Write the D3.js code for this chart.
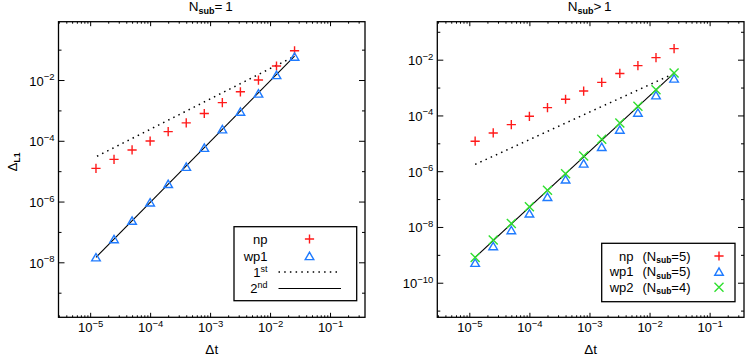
<!DOCTYPE html>
<html>
<head>
<meta charset="utf-8">
<script src="https://cdn.jsdelivr.net/npm/d3@7"></script>
<style>
  body { margin: 0; background: #fff; }
  svg { display: block; }
  text { font-family: "Liberation Sans", Arial, Helvetica, sans-serif; fill: #000; }
</style>
</head>
<body>
<svg id="chart" width="747" height="357"></svg>
<script>
// time steps (same for every series)
const dt = [1.25e-5, 2.5e-5, 5e-5, 1e-4, 2e-4, 4e-4, 8e-4, 1.6e-3, 3.2e-3, 6.4e-3, 1.28e-2, 2.56e-2];

// left panel, Nsub = 1
const npLeft  = [1.24e-5, 2.45e-5, 5.0e-5, 9.8e-5, 2.0e-4, 3.9e-4, 7.9e-4, 1.8e-3, 4.1e-3, 1.0e-2, 2.9e-2, 9.2e-2];
const wp1Left = [1.46e-8, 5.8e-8, 2.34e-7, 9.4e-7, 3.8e-6, 1.4e-5, 5.9e-5, 2.4e-4, 9.1e-4, 3.6e-3, 1.46e-2, 5.9e-2];
const firstOrderLeft  = [[1.3e-5, 3.1e-5], [2.4e-2, 5.7e-2]];
const secondOrderLeft = [[1.25e-5, 1.46e-8], [2.56e-2, 6.1e-2]];

// right panel, Nsub > 1
const npRight  = [1.19e-5, 2.35e-5, 4.7e-5, 9.3e-5, 1.9e-4, 3.8e-4, 7.5e-4, 1.54e-3, 3.2e-3, 6.1e-3, 1.18e-2, 2.5e-2];
const wp1Right = [5.2e-10, 2.06e-9, 7.7e-9, 3.05e-8, 1.2e-7, 5.05e-7, 1.89e-6, 7.4e-6, 3.1e-5, 1.26e-4, 5.3e-4, 2.1e-3];
const wp2Right = [8.1e-10, 3.4e-9, 1.34e-8, 5.3e-8, 2.09e-7, 8.1e-7, 3.5e-6, 1.4e-5, 5.4e-5, 2.13e-4, 8.4e-4, 3.3e-3];
const firstOrderRight  = [[1.25e-5, 1.75e-6], [2.4e-2, 3.0e-3]];
const secondOrderRight = [[1.25e-5, 8.1e-10], [2.56e-2, 3.3e-3]];

// tick exponents
const xTickExp = [-5, -4, -3, -2, -1];
const yLabelExpLeft = [-2, -4, -6, -8];
const yOddExpLeft = [-1, -3, -5, -7, -9];
const yLabelExpRight = [-2, -4, -6, -8, -10];
const yOddExpRight = [-1, -3, -5, -7, -9, -11];

const RED = "#ff1a1a", BLUE = "#1f7bff", GREEN = "#2fe02f";

const svg = d3.select("#chart");

function plus(g, cx, cy, color) {
  g.append("path")
    .attr("d", `M${cx - 4.6},${cy}H${cx + 4.6}M${cx},${cy - 4.6}V${cy + 4.6}`)
    .attr("stroke", color).attr("stroke-width", 1.4).attr("fill", "none");
}
function triangle(g, cx, cy, color) {
  g.append("path")
    .attr("d", `M${cx - 4.3},${cy + 3.6}L${cx},${cy - 3.8}L${cx + 4.3},${cy + 3.6}Z`)
    .attr("stroke", color).attr("stroke-width", 1.4).attr("fill", "none");
}
function cross(g, cx, cy, color) {
  g.append("path")
    .attr("d", `M${cx - 4.5},${cy - 4.5}L${cx + 4.5},${cy + 4.5}M${cx - 4.5},${cy + 4.5}L${cx + 4.5},${cy - 4.5}`)
    .attr("stroke", color).attr("stroke-width", 1.4).attr("fill", "none");
}

// "10" with a superscript exponent
function sci(text, exp) {
  text.append("tspan").attr("font-size", 13).text("10");
  text.append("tspan").attr("font-size", 9.5).attr("dy", -5.5).text("\u2212" + Math.abs(exp));
}

function minorTicks(domain) {
  const vals = [];
  for (let e = Math.floor(Math.log10(domain[0])); e <= Math.ceil(Math.log10(domain[1])); e++) {
    for (let k = 2; k <= 9; k++) {
      const v = k * Math.pow(10, e);
      if (v > domain[0] && v < domain[1]) vals.push(v);
    }
  }
  return vals;
}

function drawPanel(p) {
  const x = d3.scaleLog().domain(p.xDomain).range([p.left, p.right]);
  const y = d3.scaleLog().domain(p.yDomain).range([p.bottom, p.top]);
  const g = svg.append("g");

  const xMajor = xTickExp.map(e => Math.pow(10, e));
  const xMinor = minorTicks(p.xDomain);
  const yMajor = p.yLabelExp.map(e => Math.pow(10, e));
  const yOdd = p.yOddExp.map(e => Math.pow(10, e));

  const axes = [
    [d3.axisBottom(x).tickValues(xMinor).tickSize(-2), `translate(0,${p.bottom})`],
    [d3.axisBottom(x).tickValues(xMajor).tickSize(-4.5), `translate(0,${p.bottom})`],
    [d3.axisTop(x).tickValues(xMinor).tickSize(-2), `translate(0,${p.top})`],
    [d3.axisTop(x).tickValues(xMajor).tickSize(-4.5), `translate(0,${p.top})`],
    [d3.axisLeft(y).tickValues(yOdd).tickSize(-3), `translate(${p.left},0)`],
    [d3.axisLeft(y).tickValues(yMajor).tickSize(-6), `translate(${p.left},0)`],
    [d3.axisRight(y).tickValues(yOdd).tickSize(-3), `translate(${p.right},0)`],
    [d3.axisRight(y).tickValues(yMajor).tickSize(-6), `translate(${p.right},0)`]
  ];
  axes.forEach(([ax, tr]) => {
    const a = g.append("g").attr("transform", tr).call(ax.tickFormat("").tickSizeOuter(0));
    a.select(".domain").remove();
    a.selectAll("line").attr("stroke", "#000").attr("stroke-width", 1);
  });

  g.append("rect")
    .attr("x", p.left).attr("y", p.top)
    .attr("width", p.right - p.left).attr("height", p.bottom - p.top)
    .attr("fill", "none").attr("stroke", "#000").attr("stroke-width", 1.3);

  // tick labels
  xTickExp.forEach(e => {
    const t = g.append("text").attr("x", x(Math.pow(10, e)) + 0.5).attr("y", p.bottom + 15)
      .attr("text-anchor", "middle");
    sci(t, e);
  });
  p.yLabelExp.forEach(e => {
    const t = g.append("text").attr("x", p.left - 4).attr("y", y(Math.pow(10, e)) + 5.5)
      .attr("text-anchor", "end");
    sci(t, e);
  });

  // x title
  const xt = g.append("text").attr("x", (p.left + p.right) / 2).attr("y", 354)
    .attr("text-anchor", "middle").attr("font-size", 13.5);
  xt.text("\u0394t");

  // panel title
  const tt = g.append("text").attr("x", (p.left + p.right) / 2 - 1).attr("y", 11)
    .attr("text-anchor", "middle").attr("font-size", 13.5);
  tt.append("tspan").text("N");
  tt.append("tspan").attr("font-size", 9).attr("font-weight", "bold").attr("dy", 3).text("sub");
  tt.append("tspan").attr("dy", -3).text(p.titleOp + "\u2009" + "1");

  const line = d3.line().x(d => x(d[0])).y(d => y(d[1]));
  g.append("path").attr("d", line(p.first))
    .attr("fill", "none").attr("stroke", "#000").attr("stroke-width", 1.5)
    .attr("stroke-dasharray", "1.5,4.2");
  g.append("path").attr("d", line(p.second))
    .attr("fill", "none").attr("stroke", "#000").attr("stroke-width", 1.1);

  p.series.forEach(s => {
    s.values.forEach((v, i) => s.mark(g, x(dt[i]), y(v), s.color));
  });

  // legend
  const L = p.legend;
  g.append("rect").attr("x", L.x0).attr("y", L.y0)
    .attr("width", L.x1 - L.x0).attr("height", L.y1 - L.y0)
    .attr("fill", "#fff").attr("stroke", "#000").attr("stroke-width", 1.3);
  L.items.forEach(it => {
    const t = g.append("text").attr("x", L.textX).attr("y", it.y + 4.5)
      .attr("text-anchor", "end").attr("font-size", 13);
    it.label(t);
    if (it.note) {
      const n = g.append("text").attr("x", L.noteX).attr("y", it.y + 4.5).attr("font-size", 13);
      n.append("tspan").text("(N");
      n.append("tspan").attr("font-size", 8.5).attr("font-weight", "bold").attr("dy", 2.5).text("sub");
      n.append("tspan").attr("dy", -2.5).text("=" + it.note + ")");
    }
    if (it.mark) it.mark(g, L.symX, it.y, it.color);
    if (it.dash !== undefined) {
      g.append("line").attr("x1", L.lineX0).attr("x2", L.lineX1)
        .attr("y1", it.y).attr("y2", it.y)
        .attr("stroke", "#000").attr("stroke-width", it.dash ? 1.5 : 1.1)
        .attr("stroke-dasharray", it.dash ? "1.5,4.2" : null);
    }
  });
}

function plain(s) { return t => t.text(s); }
function ordinal(n, sup) {
  return t => {
    t.append("tspan").text(n);
    t.append("tspan").attr("font-size", 9).attr("dy", -5).text(sup);
  };
}

drawPanel({
  left: 58.5, right: 365, top: 21.7, bottom: 317.3,
  xDomain: [Math.pow(10, -5.528), Math.pow(10, -0.417)],
  yDomain: [Math.pow(10, -9.81), Math.pow(10, -0.08)],
  yLabelExp: yLabelExpLeft, yOddExp: yOddExpLeft,
  titleOp: "=",
  first: firstOrderLeft, second: secondOrderLeft,
  series: [
    { values: npLeft, mark: plus, color: RED },
    { values: wp1Left, mark: triangle, color: BLUE }
  ],
  legend: {
    x0: 234, y0: 226.7, x1: 356.7, y1: 300.7,
    textX: 267.5, symX: 309.5, lineX0: 278.5, lineX1: 341,
    items: [
      { y: 239, label: plain("np"), mark: plus, color: RED },
      { y: 256, label: plain("wp1"), mark: triangle, color: BLUE },
      { y: 272, label: ordinal("1", "st"), dash: true },
      { y: 288.5, label: ordinal("2", "nd"), dash: false }
    ]
  }
});

drawPanel({
  left: 437.3, right: 744, top: 21.7, bottom: 317.3,
  xDomain: [Math.pow(10, -5.533), Math.pow(10, -0.428)],
  yDomain: [Math.pow(10, -11.24), Math.pow(10, -0.638)],
  yLabelExp: yLabelExpRight, yOddExp: yOddExpRight,
  titleOp: ">",
  first: firstOrderRight, second: secondOrderRight,
  series: [
    { values: npRight, mark: plus, color: RED },
    { values: wp1Right, mark: triangle, color: BLUE },
    { values: wp2Right, mark: cross, color: GREEN }
  ],
  legend: {
    x0: 601.7, y0: 243.3, x1: 735, y1: 301.7,
    textX: 633.5, noteX: 642.5, symX: 719,
    items: [
      { y: 256, label: plain("np"), note: "5", mark: plus, color: RED },
      { y: 271.7, label: plain("wp1"), note: "5", mark: triangle, color: BLUE },
      { y: 287.3, label: plain("wp2"), note: "4", mark: cross, color: GREEN }
    ]
  }
});

// y title, left panel only
const yt = svg.append("text").attr("transform", "translate(17,162) rotate(-90)")
  .attr("text-anchor", "middle").attr("font-size", 13.5);
yt.append("tspan").text("\u0394");
yt.append("tspan").attr("font-size", 8.5).attr("font-weight", "bold").attr("dy", 3).text("L1");
</script>
</body>
</html>
